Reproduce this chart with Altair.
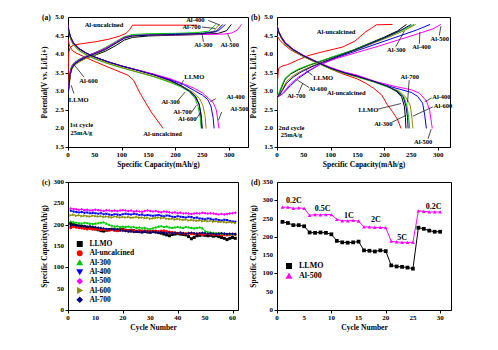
import altair as alt
import pandas as pd

FONT = "Liberation Serif"
NAMES = ["LLMO", "Al-uncalcined", "Al-300", "Al-400", "Al-500", "Al-600", "Al-700"]
COLORS = ["#000000", "#ff0000", "#00c800", "#0000ff", "#ff00ff", "#8c8c00", "#000080"]
SHAPES = ["square", "circle", "triangle-up", "triangle-down", "diamond", "triangle-right", "diamond"]

# tick values / labels
ab_xticks = [0, 50, 100, 150, 200, 250, 300]
ab_yticks = [1.5, 2.0, 2.5, 3.0, 3.5, 4.0, 4.5, 5.0]
ab_ylabels = ["1.5", "2.0", "2.5", "3.0", "3.5", "4.0", "4.5", "5.0"]
c_xticks = [0, 10, 20, 30, 40, 50, 60]
c_yticks = [0, 50, 100, 150, 200, 250, 300]
d_xticks = [0, 5, 10, 15, 20, 25, 30]
d_yticks = [0, 50, 100, 150, 200, 250, 300, 350]

# ---------------- panel (a): 1st cycle (capacity, potential) ----------------
a_chg_llmo = [(0,2.9),(2,3.15),(4,3.45),(7,3.62),(12,3.72),(20,3.8),(35,3.9),(50,3.97),(70,4.08),(90,4.24),(105,4.38),(120,4.45),(150,4.49),(200,4.51),(250,4.53),(280,4.56),(295,4.63),(304,4.8)]
a_chg_unc = [(0,3.0),(0.5,3.6),(1.5,4.05),(4,4.18),(10,4.24),(25,4.28),(50,4.33),(75,4.4),(95,4.48),(108,4.56),(115,4.66),(120,4.78),(240,4.78)]
a_chg_300 = [(0,2.95),(2,3.25),(4,3.55),(7,3.7),(12,3.78),(20,3.86),(35,3.96),(50,4.04),(70,4.18),(90,4.35),(105,4.47),(120,4.53),(150,4.55),(200,4.56),(240,4.58),(262,4.62),(275,4.8)]
a_chg_400 = [(0,2.95),(2,3.2),(4,3.5),(7,3.66),(12,3.76),(20,3.84),(35,3.95),(50,4.03),(70,4.15),(90,4.32),(105,4.45),(120,4.5),(150,4.52),(200,4.54),(250,4.56),(280,4.63),(293,4.8)]
a_chg_500 = [(0,2.95),(2,3.2),(4,3.5),(7,3.66),(12,3.76),(20,3.84),(35,3.95),(50,4.03),(70,4.16),(90,4.33),(105,4.45),(120,4.5),(150,4.51),(200,4.52),(250,4.53),(290,4.54),(305,4.57),(315,4.65),(323,4.8)]
a_chg_600 = [(0,2.9),(2,3.1),(4,3.4),(7,3.58),(12,3.7),(20,3.78),(35,3.9),(50,3.98),(70,4.12),(90,4.3),(105,4.43),(120,4.49),(150,4.51),(200,4.53),(250,4.55),(270,4.6),(282,4.8)]
a_chg_700 = [(0,2.9),(2,3.15),(4,3.45),(7,3.62),(12,3.73),(20,3.82),(35,3.93),(50,4.01),(70,4.13),(90,4.3),(105,4.43),(120,4.49),(150,4.51),(200,4.53),(250,4.55),(275,4.6),(288,4.8)]

a_dis_llmo = [(0,4.75),(2,4.6),(5,4.45),(10,4.3),(20,4.15),(35,4.02),(50,3.92),(75,3.79),(100,3.68),(130,3.57),(160,3.45),(190,3.3),(211,3.15),(228,3.0),(238,2.85),(244,2.65),(247,2.4),(249,2.0)]
a_dis_unc = [(0,4.4),(3,4.22),(8,4.1),(15,4.03),(30,3.93),(50,3.8),(80,3.62),(112,3.43),(122,3.3),(134,2.95),(145,2.68),(155,2.44),(167,2.2),(177,2.0)]
a_dis_300 = [(0,4.72),(2,4.55),(5,4.4),(10,4.25),(20,4.1),(35,3.97),(50,3.87),(75,3.74),(100,3.63),(130,3.51),(160,3.39),(190,3.24),(210,3.12),(225,3.0),(236,2.82),(242,2.6),(246,2.3),(248,2.0)]
a_dis_400 = [(0,4.75),(2,4.6),(5,4.45),(10,4.3),(20,4.15),(35,4.02),(50,3.92),(75,3.79),(100,3.68),(130,3.57),(160,3.45),(190,3.32),(215,3.18),(235,3.02),(250,2.9),(260,2.78),(266,2.6),(270,2.3),(272,2.0)]
a_dis_500 = [(0,4.78),(2,4.62),(5,4.47),(10,4.32),(20,4.16),(35,4.02),(50,3.92),(75,3.79),(100,3.68),(130,3.57),(160,3.46),(190,3.34),(215,3.2),(235,3.08),(250,2.96),(262,2.8),(270,2.7),(276,2.5),(279,2.2),(281,2.0)]
a_dis_600 = [(0,4.72),(2,4.56),(5,4.41),(10,4.26),(20,4.11),(35,3.98),(50,3.88),(75,3.75),(100,3.64),(130,3.52),(160,3.4),(190,3.26),(215,3.12),(232,2.98),(245,2.8),(251,2.62),(255,2.35),(257,2.0)]
a_dis_700 = [(0,4.75),(2,4.6),(5,4.45),(10,4.3),(20,4.15),(35,4.02),(50,3.92),(75,3.79),(100,3.68),(130,3.56),(160,3.44),(190,3.29),(210,3.15),(226,3.0),(237,2.85),(244,2.65),(248,2.35),(250,2.0)]

a_lab_text = ["Al-uncalcined","Al-400","Al-700","Al-300","Al-500","Al-600","LLMO","LLMO","Al-400","Al-300","Al-700","Al-600","Al-500","Al-uncalcined","1st cycle","25mA/g"]
a_lab_x = [67,237,230,252,301,38,20,235,312,191,213,222,319,176,25,25]
a_lab_y = [4.79,4.91,4.73,4.24,4.24,3.28,2.76,3.38,2.85,2.71,2.44,2.25,2.53,1.86,2.08,1.89]
a_arrows = [(261,4.91,283,4.78),(249,4.73,274,4.69),(252,4.33,249,4.58),(304,4.33,297,4.55),
            (30,3.38,11,3.72),(11,2.94,6,3.16),(215,3.3,209,3.14),(275,2.8,265,2.72),
            (205,2.76,218,2.98),(230,2.44,239,2.62),(239,2.26,247,2.44),(286,2.44,280,2.22)]

# ---------------- panel (b): 2nd cycle ----------------
b_chg_llmo = [(0,2.85),(3,2.9),(8,3.08),(15,3.32),(25,3.46),(40,3.58),(60,3.7),(80,3.8),(110,3.95),(140,4.1),(170,4.28),(200,4.46),(225,4.63),(241,4.8)]
b_chg_unc = [(0,2.4),(1,3.3),(3,3.62),(10,3.68),(20,3.72),(40,3.85),(60,3.97),(90,4.08),(122,4.19),(145,4.35),(165,4.6),(178,4.72),(185,4.79),(215,4.8)]
b_chg_300 = [(0,2.87),(3,2.93),(8,3.12),(15,3.35),(25,3.48),(40,3.6),(60,3.71),(80,3.81),(110,3.96),(140,4.1),(170,4.27),(200,4.44),(230,4.62),(255,4.8)]
b_chg_400 = [(0,2.85),(5,2.88),(12,2.95),(25,3.15),(40,3.35),(60,3.55),(80,3.72),(110,3.9),(150,4.1),(190,4.3),(230,4.5),(260,4.65),(285,4.8)]
b_chg_500 = [(0,2.85),(5,2.88),(12,2.97),(25,3.2),(40,3.38),(60,3.57),(80,3.72),(110,3.88),(150,4.05),(190,4.22),(230,4.4),(265,4.56),(290,4.68),(305,4.8)]
b_chg_600 = [(0,2.85),(4,2.9),(10,3.05),(18,3.27),(30,3.42),(45,3.55),(65,3.68),(85,3.79),(115,3.95),(145,4.1),(175,4.27),(205,4.44),(235,4.62),(258,4.8)]
b_chg_700 = [(0,2.85),(4,2.89),(10,3.02),(18,3.22),(30,3.38),(45,3.52),(65,3.66),(85,3.78),(115,3.95),(145,4.11),(175,4.29),(205,4.47),(230,4.64),(250,4.8)]

b_dis_llmo = [(0,4.75),(3,4.6),(8,4.45),(15,4.3),(30,4.12),(50,3.95),(75,3.78),(100,3.62),(125,3.5),(150,3.4),(180,3.27),(205,3.14),(222,3.0),(232,2.85),(237,2.6),(239,2.3),(240,2.0)]
b_dis_unc = [(0,4.5),(5,4.38),(10,4.3),(25,4.12),(40,4.0),(60,3.86),(80,3.74),(100,3.6),(120,3.48),(150,3.33),(165,3.22),(180,3.08),(195,2.9),(205,2.65),(215,2.45),(224,2.25),(231,2.0)]
b_dis_300 = [(0,4.73),(3,4.58),(8,4.43),(15,4.28),(30,4.1),(50,3.93),(75,3.76),(100,3.6),(125,3.48),(150,3.38),(180,3.25),(205,3.12),(225,3.0),(236,2.85),(242,2.6),(245,2.3),(247,2.0)]
b_dis_400 = [(0,4.78),(3,4.62),(8,4.47),(15,4.32),(30,4.13),(50,3.96),(75,3.79),(100,3.63),(125,3.51),(150,3.42),(184,3.24),(220,3.09),(250,2.97),(262,2.86),(271,2.68),(275,2.35),(278,2.0)]
b_dis_500 = [(0,4.78),(3,4.62),(8,4.47),(15,4.32),(30,4.13),(50,3.96),(75,3.79),(100,3.64),(125,3.52),(150,3.43),(184,3.26),(220,3.13),(250,3.04),(265,2.95),(278,2.74),(284,2.5),(287,2.2),(289,2.0)]
b_dis_600 = [(0,4.73),(3,4.58),(8,4.43),(15,4.28),(30,4.1),(50,3.93),(75,3.76),(100,3.6),(125,3.49),(150,3.39),(180,3.26),(205,3.14),(228,3.0),(240,2.84),(248,2.62),(251,2.3),(253,2.0)]
b_dis_700 = [(0,4.75),(3,4.6),(8,4.45),(15,4.3),(30,4.12),(50,3.95),(75,3.78),(100,3.62),(125,3.5),(150,3.4),(180,3.27),(205,3.14),(224,3.0),(235,2.85),(240,2.6),(243,2.3),(244,2.0)]

b_lab_text = ["Al-uncalcined","Al-300","Al-400","Al-500","LLMO","Al-600","Al-700","Al-uncalcined","Al-700","Al-400","LLMO","Al-600","Al-300","Al-500","2nd cycle","25mA/g"]
b_lab_x = [110,222,269,303,86,76,36,129,247,306,170,309,198,272,27,27]
b_lab_y = [4.6,4.1,4.19,4.4,3.37,3.05,2.87,2.96,3.38,2.85,2.49,2.6,2.13,1.63,2.01,1.83]
b_arrows = [(221,4.2,237,4.62),(265,4.28,266,4.6),(302,4.5,305,4.75),(66,3.43,54,3.56),
            (60,3.1,38,3.3),(40,2.95,48,3.22),(246,3.3,243,2.7),(288,2.82,275,2.72),
            (188,2.52,231,2.67),(290,2.58,253,2.33),(214,2.17,240,2.35),(281,1.72,287,1.98)]

# ---------------- panel (c): cycling, cycles 1..61 ----------------
c_llmo = [203,200,198,197,196,195,194,193,191,190,
          188,186,185,187,188,189,188,187,188,189,
          187,186,185,186,184,185,183,184,183,182,
          184,183,182,180,178,176,174,177,178,179,
          178,177,176,172,167,170,174,175,176,175,
          174,175,173,174,172,170,168,165,168,170,
          168]
c_unc = [193,195,194,193,192,191,190,191,189,190,
         189,188,189,188,187,188,187,186,187,188,
         187,186,187,186,185,186,185,186,184,185,
         184,185,184,185,186,184,183,182,181,180,
         181,180,179,180,179,178,179,178,177,178,
         179,178,177,178,177,176,177,176,177,178,
         177]
c_300 = [208,206,205,204,203,205,204,203,202,203,
         204,205,206,203,200,198,196,197,195,196,
         195,196,194,195,193,194,192,193,191,190,
         192,194,196,197,195,196,194,193,194,195,
         194,193,195,194,193,192,193,194,192,185,
         183,182,181,180,181,179,180,178,179,177,
         178]
c_400 = [232,230,229,228,229,227,228,226,227,226,
         225,226,224,225,223,222,224,223,222,224,
         225,224,223,225,224,222,223,221,222,221,
         220,221,222,220,219,221,220,218,217,219,
         218,217,216,218,217,215,216,214,213,212,
         214,213,211,212,210,209,211,210,208,207,
         206]
c_500 = [238,237,236,235,236,234,235,233,234,235,
         234,233,232,234,233,232,233,232,233,234,
         233,232,233,231,232,231,230,232,233,232,
         231,232,230,229,231,230,229,228,229,227,
         228,226,227,226,225,226,227,226,228,227,
         226,227,226,225,224,225,224,225,226,227,
         228]
c_600 = [222,223,221,222,220,221,220,219,221,220,
         219,220,218,219,218,217,219,218,217,218,
         217,218,216,217,218,216,217,215,216,214,
         215,216,217,215,216,214,213,214,212,213,
         212,211,212,210,211,210,209,210,208,209,
         208,209,207,208,206,207,206,205,206,205,
         204]
c_700 = [197,199,198,197,196,197,195,196,195,194,
         193,192,191,190,189,190,188,189,187,186,
         185,184,185,183,184,183,182,184,183,182,
         183,182,181,182,181,180,181,180,181,180,
         181,180,179,180,181,180,179,180,181,180,
         179,180,179,178,179,180,179,178,179,178,
         178]

# ---------------- panel (d): rate capability, cycles 1..30 ----------------
d_llmo = [241,238,232,232,229,212,211,212,211,207,189,185,184,185,187,
          163,162,160,163,161,122,119,118,116,113,225,222,217,214,214]
d_500 = [281,281,278,279,278,259,261,260,261,261,248,244,244,245,243,
         227,227,226,226,225,188,186,185,185,185,271,270,268,268,268]
d_rate_text = ["0.2C", "0.5C", "1C", "2C", "5C", "0.2C"]
d_rate_x = [3.1, 8.4, 13.2, 18.2, 23.0, 28.8]
d_rate_y = [298, 275, 257, 245, 198, 282]

LBL = dict(font=FONT, fontSize=7, fontWeight="bold", color="black")


def ax(values, title, xdir):
    return alt.Axis(values=values, title=title, labels=False,
                    titlePadding=(10 if xdir else 16))


def tick_label_layers(xs, ys, xvals, yvals, ylabels, height):
    xdf = pd.DataFrame({"tv": xvals, "tl": [str(v) for v in xvals]})
    ydf = pd.DataFrame({"tv": yvals, "tl": ylabels})
    xl = alt.Chart(xdf).mark_text(align="center", baseline="top", **LBL).encode(
        x=alt.X("tv:Q", scale=xs), y=alt.value(height + 4), text="tl:N")
    yl = alt.Chart(ydf).mark_text(align="right", baseline="middle", **LBL).encode(
        x=alt.value(-4), y=alt.Y("tv:Q", scale=ys), text="tl:N")
    return [xl, yl]


def curve_frame(chg, dis):
    rows = []
    for name, c_pts, d_pts in zip(NAMES, chg, dis):
        for branch, pts in (("c", c_pts), ("d", d_pts)):
            for i, (x, y) in enumerate(pts):
                rows.append({"s": name, "k": name + branch, "o": i, "cap": x, "v": y})
    return pd.DataFrame(rows)


def tag_layer(tag):
    return alt.Chart(pd.DataFrame({"t": [tag]})).mark_text(
        font=FONT, fontSize=7.5, fontWeight="bold", align="left", baseline="middle", color="black"
    ).encode(x=alt.value(-26), y=alt.value(1), text="t:N")


def curve_panel(chg, dis, xmax, width, lab_t, lab_x, lab_y, arrows, tag):
    df = curve_frame(chg, dis)
    xs = alt.Scale(domain=[0, xmax], nice=False, zero=False)
    ys = alt.Scale(domain=[1.5, 5.0], nice=False, zero=False)
    lines = alt.Chart(df).mark_line(strokeWidth=1, clip=True).encode(
        x=alt.X("cap:Q", scale=xs, axis=ax(ab_xticks, "Specific Capacity(mAh/g)", True)),
        y=alt.Y("v:Q", scale=ys, axis=ax(ab_yticks, "Potential(V vs. Li/Li+)", False)),
        color=alt.Color("s:N", scale=alt.Scale(domain=NAMES, range=COLORS), legend=None),
        detail="k:N",
        order="o:Q",
    )
    adf = pd.DataFrame(arrows, columns=["cap", "v", "cap2", "v2"])
    arr = alt.Chart(adf).mark_rule(strokeWidth=0.7, color="black").encode(
        x=alt.X("cap:Q", scale=xs), y=alt.Y("v:Q", scale=ys), x2="cap2:Q", y2="v2:Q")
    ldf = pd.DataFrame({"cap": lab_x, "v": lab_y, "t": lab_t})
    txt = alt.Chart(ldf).mark_text(font=FONT, fontSize=6.5, fontWeight="bold", color="black").encode(
        x=alt.X("cap:Q", scale=xs), y=alt.Y("v:Q", scale=ys), text="t:N")
    layers = [lines, arr, txt, tag_layer(tag)] + tick_label_layers(xs, ys, ab_xticks, ab_yticks, ab_ylabels, 130)
    return alt.layer(*layers).properties(width=width, height=130)


chart_a = curve_panel(
    [a_chg_llmo, a_chg_unc, a_chg_300, a_chg_400, a_chg_500, a_chg_600, a_chg_700],
    [a_dis_llmo, a_dis_unc, a_dis_300, a_dis_400, a_dis_500, a_dis_600, a_dis_700],
    335, 180, a_lab_text, a_lab_x, a_lab_y, a_arrows, "(a)")
chart_b = curve_panel(
    [b_chg_llmo, b_chg_unc, b_chg_300, b_chg_400, b_chg_500, b_chg_600, b_chg_700],
    [b_dis_llmo, b_dis_unc, b_dis_300, b_dis_400, b_dis_500, b_dis_600, b_dis_700],
    322, 173, b_lab_text, b_lab_x, b_lab_y, b_arrows, "(b)")

# panel (c)
rows = []
for name, vals in zip(NAMES, [c_llmo, c_unc, c_300, c_400, c_500, c_600, c_700]):
    for i, val in enumerate(vals):
        rows.append({"sc": name, "cyc": i + 1, "cap": val})
dfc = pd.DataFrame(rows)
leg_c = alt.Legend(title=None, orient="none", legendX=8, legendY=58, labelFont=FONT,
                   labelFontSize=7.5, labelFontWeight="bold", symbolSize=20, rowPadding=1.3,
                   clipHeight=8, padding=0, labelOffset=6)
xs_c = alt.Scale(domain=[0, 62], nice=False)
ys_c = alt.Scale(domain=[0, 300], nice=False)
xc = alt.X("cyc:Q", scale=xs_c, axis=ax(c_xticks, "Cycle Number", True))
yc = alt.Y("cap:Q", scale=ys_c, axis=ax(c_yticks, "Specific Capacity(mAh/g)", False))
c_color = alt.Color("sc:N", scale=alt.Scale(domain=NAMES, range=COLORS), legend=leg_c)
c_lines = alt.Chart(dfc).mark_line(strokeWidth=0.9).encode(x=xc, y=yc, color=c_color)
c_pts = alt.Chart(dfc).mark_point(filled=True, size=9, opacity=1).encode(
    x=xc, y=yc, color=c_color,
    shape=alt.Shape("sc:N", scale=alt.Scale(domain=NAMES, range=SHAPES), legend=leg_c))
chart_c = alt.layer(
    c_lines, c_pts, tag_layer("(c)"),
    *tick_label_layers(xs_c, ys_c, c_xticks, c_yticks, [str(v) for v in c_yticks], 128)
).properties(width=170, height=128)

# panel (d)
D_NAMES = ["LLMO", "Al-500"]
rows = []
for name, vals in zip(D_NAMES, [d_llmo, d_500]):
    for i, val in enumerate(vals):
        rows.append({"sd": name, "cyc": i + 1, "cap": val})
dfd = pd.DataFrame(rows)
leg_d = alt.Legend(title=None, orient="none", legendX=8, legendY=80, labelFont=FONT,
                   labelFontSize=8, labelFontWeight="bold", symbolSize=20, rowPadding=2,
                   clipHeight=8, padding=0, labelOffset=6)
xs_d = alt.Scale(domain=[0, 32], nice=False)
ys_d = alt.Scale(domain=[0, 350], nice=False)
xd = alt.X("cyc:Q", scale=xs_d, axis=ax(d_xticks, "Cycle Number", True))
yd = alt.Y("cap:Q", scale=ys_d, axis=ax(d_yticks, "Specific Capacity(mAh/g)", False))
d_color = alt.Color("sd:N", scale=alt.Scale(domain=D_NAMES, range=["#000000", "#ff00ff"]), legend=leg_d)
d_lines = alt.Chart(dfd).mark_line(strokeWidth=1).encode(x=xd, y=yd, color=d_color)
d_pts = alt.Chart(dfd).mark_point(filled=True, size=14, opacity=1).encode(
    x=xd, y=yd, color=d_color,
    shape=alt.Shape("sd:N", scale=alt.Scale(domain=D_NAMES, range=["square", "triangle-up"]), legend=leg_d))
rdf = pd.DataFrame({"cyc": d_rate_x, "cap": d_rate_y, "t": d_rate_text})
d_txt = alt.Chart(rdf).mark_text(font=FONT, fontSize=8, fontWeight="bold", color="black").encode(
    x=alt.X("cyc:Q", scale=xs_d), y=alt.Y("cap:Q", scale=ys_d), text="t:N")
chart_d = alt.layer(
    d_lines, d_pts, d_txt, tag_layer("(d)"),
    *tick_label_layers(xs_d, ys_d, d_xticks, d_yticks, [str(v) for v in d_yticks], 128)
).properties(width=174, height=128)

chart = alt.concat(
    chart_a, chart_b, chart_c, chart_d,
    columns=2, spacing={"row": 35, "column": 29}, bounds="flush",
).resolve_scale(
    color="independent", shape="independent"
).properties(
    padding={"left": 40, "top": 12, "right": 0, "bottom": 0}, background="white"
).configure_axis(
    titleFont=FONT, titleFontSize=7.5, titleFontWeight="bold", titleColor="black",
    domainColor="black", tickColor="black", tickSize=3, grid=False,
).configure_view(stroke="black", strokeWidth=1)

chart.save("out.html", embed_options={"renderer": "svg", "actions": False})
